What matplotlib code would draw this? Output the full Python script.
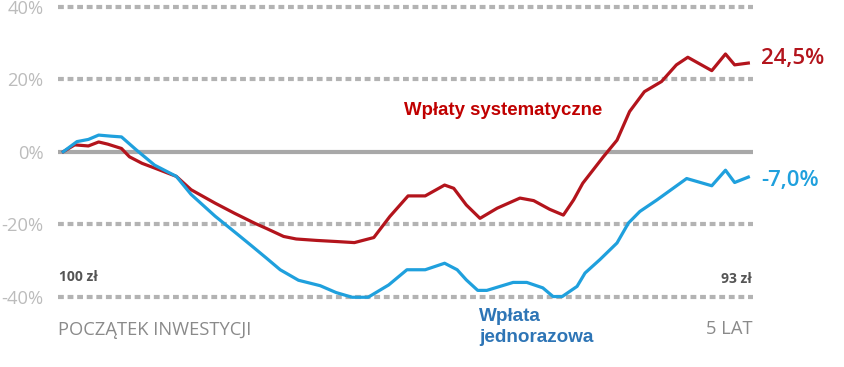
import matplotlib
matplotlib.use("Agg")
import matplotlib.pyplot as plt

# miesiące od początku inwestycji i wynik w %
syst_months = [0.0, 1.0, 2.2, 3.1, 3.9, 5.1, 5.8, 6.9, 8.0, 9.9, 11.2, 13.3, 15.0, 16.8,
               17.8, 19.3, 20.4, 22.2, 23.9, 25.5, 27.2, 28.6, 30.2, 31.7, 33.4, 34.2,
               35.3, 36.5, 38.0, 40.0, 41.2, 42.6, 43.8, 44.7, 45.5, 47.3, 48.5, 49.6,
               50.9, 52.4, 53.7, 54.7, 56.8, 58.0, 58.8, 60.0]
syst_values = [0.0, 1.9, 1.6, 2.7, 2.1, 0.9, -1.4, -3.2, -4.5, -6.8, -10.5, -14.2, -17.0, -19.8,
               -21.2, -23.4, -24.1, -24.5, -24.8, -25.1, -23.7, -17.9, -12.2, -12.2, -9.2, -10.1,
               -14.7, -18.4, -15.6, -12.8, -13.5, -15.9, -17.5, -13.3, -8.7, -1.4, 3.2, 11.1,
               16.6, 19.4, 24.0, 26.1, 22.4, 27.0, 24.0, 24.5]

jedn_months = [0.0, 1.2, 2.2, 3.1, 4.2, 5.1, 6.4, 8.0, 9.9, 11.2, 13.3, 15.3, 16.5, 17.8,
               19.0, 20.6, 22.5, 23.9, 25.3, 26.7, 28.5, 30.1, 31.7, 33.4, 34.5, 35.3,
               36.3, 37.1, 39.4, 40.6, 42.0, 42.9, 43.7, 45.0, 45.7, 47.0, 48.5, 49.5,
               50.5, 52.0, 54.6, 56.8, 58.0, 58.8, 60.0]
jedn_values = [0.0, 2.8, 3.4, 4.6, 4.3, 4.1, 0.5, -3.7, -6.8, -11.8, -17.8, -22.9, -26.0, -29.4,
               -32.6, -35.5, -37.0, -38.9, -40.2, -40.2, -36.8, -32.6, -32.6, -30.8, -32.6, -35.4,
               -38.3, -38.3, -36.1, -36.1, -37.6, -40.0, -40.0, -37.2, -33.5, -29.8, -25.2, -19.7,
               -16.5, -13.3, -7.4, -9.4, -5.1, -8.5, -7.0]

grid_levels = [40, 20, -20, -40]
tick_values = [40, 20, 0, -20, -40]
tick_labels = ["40%", "20%", "0%", "-20%", "-40%"]

RED = "#b3141c"
BLUE = "#1fa0dd"
FONT = "Open Sans"

fig = plt.figure(figsize=(8.44, 3.67), dpi=100)
ax = fig.add_axes([58 / 844, 0.1624, 695 / 844, 0.8384])
ax.set_xlim(-0.46, 60.41)
ax.set_ylim(-43, 42)

for lvl in grid_levels:
    ax.axhline(lvl, color="#b3b3b3", lw=3, linestyle=(0, (1.4, 0.9)), zorder=1)
ax.axhline(0, color="#a8a8a8", lw=3, zorder=1)

ax.plot(syst_months, syst_values, color=RED, lw=2.3, zorder=3, solid_joinstyle="round")
ax.plot(jedn_months, jedn_values, color=BLUE, lw=2.3, zorder=3, solid_joinstyle="round")

for s in ax.spines.values():
    s.set_visible(False)
ax.set_xticks([])
ax.set_yticks(tick_values)
ax.set_yticklabels(tick_labels, fontsize=13.2, color="#bcbcbc", family=FONT)
ax.tick_params(axis="y", length=0, pad=10.5)

# etykiety końcowe
ax.text(61.1, syst_values[-1] + 1.2, "24,5%", color=RED, fontsize=16,
        fontweight="semibold", family=FONT, va="center", ha="left", clip_on=False)
ax.text(61.1, jedn_values[-1] - 1.0, "-7,0%", color=BLUE, fontsize=16,
        fontweight="semibold", family=FONT, va="center", ha="left", clip_on=False)

ax.text(-0.35, -34.5, "100 zł", color="#555555", fontsize=10, fontweight="bold",
        family=FONT, va="center", ha="left")
ax.text(60.35, -35.2, "93 zł", color="#555555", fontsize=10, fontweight="bold",
        family=FONT, va="center", ha="right")

ax.text(-0.45, -49.3, "POCZĄTEK INWESTYCJI", color="#8a8a8a", fontsize=13.2,
        family=FONT, va="center", ha="left", clip_on=False)
ax.text(60.35, -48.9, "5 LAT", color="#8a8a8a", fontsize=13.2,
        family=FONT, va="center", ha="right", clip_on=False)

ax.text(29.8, 11.5, "Wpłaty systematyczne", color="#c00000", fontsize=13.4,
        fontweight="bold", family="Liberation Sans", va="center", ha="left")
ax.text(36.4, -48.5, "Wpłata\njednorazowa", color="#2e75b6", fontsize=13.6,
        fontweight="bold", family="Liberation Sans", va="center", ha="left",
        linespacing=1.3, clip_on=False)

fig.savefig("out.png", dpi=100)
